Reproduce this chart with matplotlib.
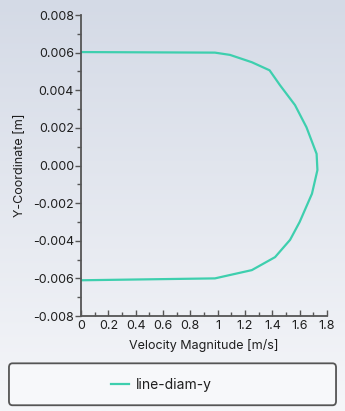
import matplotlib
matplotlib.use('Agg')
import matplotlib.pyplot as plt
import numpy as np
from matplotlib.patches import FancyBboxPatch
from matplotlib.ticker import MultipleLocator

# velocity profile across the pipe diameter
velocity = [0.0, 0.98, 1.09, 1.25, 1.38, 1.456, 1.566, 1.65, 1.724, 1.73,
            1.69, 1.60, 1.53, 1.42, 1.25, 1.09, 0.98, 0.0]
y_coord = [0.00603, 0.00600, 0.00588, 0.00549, 0.00506, 0.00427, 0.00321, 0.00203,
           0.00062, -0.00024, -0.00150, -0.00300, -0.00395, -0.00487, -0.00556,
           -0.00582, -0.00600, -0.00610]
series_name = 'line-diam-y'

plt.rcParams['font.family'] = ['Inter', 'DejaVu Sans']
text_col = '#1e1e1e'
axis_col = '#555555'
fs = 9

fig = plt.figure(figsize=(3.45, 4.11), dpi=100)

# background gradient
bg = fig.add_axes([0, 0, 1, 1], zorder=-10)
grad = np.linspace(0, 1, 256).reshape(-1, 1)
top = np.array([0xd4, 0xda, 0xe6]) / 255.0
bot = np.array([0xf5, 0xf6, 0xf9]) / 255.0
img = top + (bot - top) * grad[:, :, None]
bg.imshow(img, aspect='auto', extent=[0, 1, 0, 1])
bg.axis('off')

ax = fig.add_axes([0.2348, 0.2311, 0.713, 0.7324])
ax.set_facecolor('none')
line, = ax.plot(velocity, y_coord, color='#3ecfae', linewidth=1.6, label=series_name)

ax.set_xlim(0, 1.8)
ax.set_ylim(-0.008, 0.008)
ax.xaxis.set_minor_locator(MultipleLocator(0.1))
ax.yaxis.set_minor_locator(MultipleLocator(0.001))
ax.set_xticks(np.arange(0, 1.81, 0.2))
ax.set_xticklabels(['0', '0.2', '0.4', '0.6', '0.8', '1', '1.2', '1.4', '1.6', '1.8'])
ax.set_yticks(np.arange(-0.008, 0.0081, 0.002))
ax.set_yticklabels(['%.3f' % v for v in np.arange(-0.008, 0.0081, 0.002)])

for s in ['top', 'right']:
    ax.spines[s].set_visible(False)
for s in ['left', 'bottom']:
    ax.spines[s].set_color(axis_col)
    ax.spines[s].set_linewidth(1.3)

ax.tick_params(axis='y', which='major', direction='out', length=4, width=1, color=axis_col,
               labelsize=fs, labelcolor=text_col, pad=1)
ax.tick_params(axis='y', which='minor', direction='out', length=3, width=1, color=axis_col)
ax.tick_params(axis='x', which='major', direction='in', length=4, width=1, color=axis_col,
               labelsize=fs, labelcolor=text_col, pad=3)
ax.tick_params(axis='x', which='minor', direction='in', length=3, width=1, color=axis_col)

ax.set_xlabel('Velocity Magnitude [m/s]', fontsize=fs, color=text_col, labelpad=5)
ax.set_ylabel('Y-Coordinate [m]', fontsize=fs, color=text_col, labelpad=5)

# legend box
box = FancyBboxPatch((0.026, 0.014), 0.948, 0.102, transform=fig.transFigure,
                     boxstyle='round,pad=0,rounding_size=0.01', facecolor='#f7f8fa',
                     edgecolor='#555555', linewidth=1.3, zorder=-5)
fig.patches.append(box)
fig.legend(handles=[line], loc='center', bbox_to_anchor=(0.467, 0.064), frameon=False,
           fontsize=10, labelcolor=text_col, handlelength=1.3, handletextpad=0.5)

fig.savefig('out.png', dpi=100)
